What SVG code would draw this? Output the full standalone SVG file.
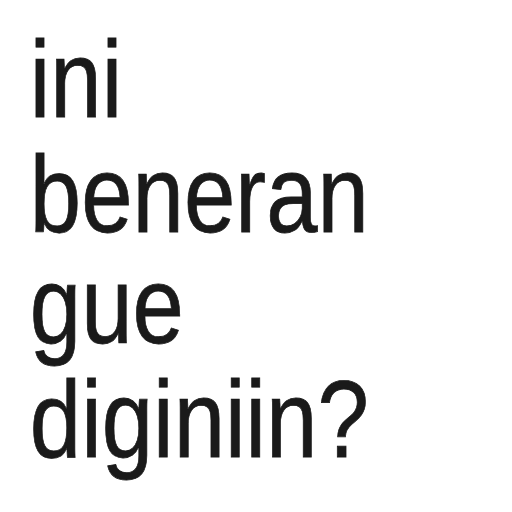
<svg xmlns="http://www.w3.org/2000/svg" width="512" height="512" viewBox="0 0 512 512">
<style>
text{font-family:"Liberation Sans",Arial,sans-serif;font-size:110px;fill:#1a1a1a;stroke:#1a1a1a;stroke-width:0.8px}
</style>
<rect width="512" height="512" fill="#ffffff"/>
<g id="caption" transform="matrix(0.84 0 0 1 0 0)">
<text><tspan x="35.5" y="117">ini</tspan><tspan x="35.5" y="232">beneran</tspan><tspan x="35.5" y="343">gue</tspan><tspan x="35.5" y="457">diginiin?</tspan></text>
</g>
</svg>
